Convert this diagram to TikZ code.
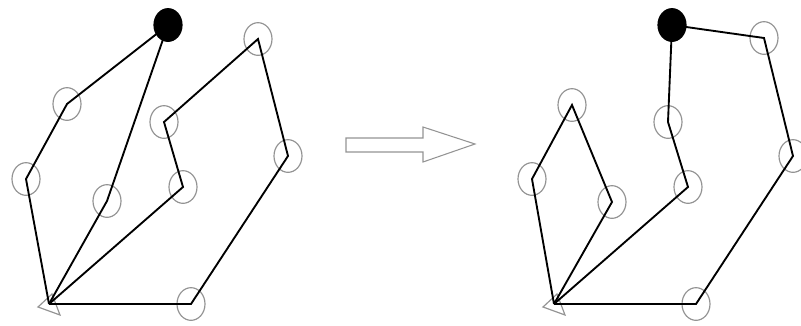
\documentclass[tikz,border=0pt]{standalone}
\usetikzlibrary{shapes.geometric}
\begin{document}
\begin{tikzpicture}[x=0.03cm, y=-0.03cm,
    every node/.style={ellipse, draw=gray!85, line width=1pt, minimum width=0.84cm, minimum height=0.98cm, inner sep=0pt},
    depot/.style={fill=black, draw=black},
    route/.style={line width=1.6pt, line join=miter}]
    \useasboundingbox (0,0) rectangle (801,325);
    % left: before
    \foreach \n/\x/\y in {a/67/104,b/26/179,c/107/201,d/164/122,e/183/187,f/258/39,g/288/156,h/191/304} {
        \node (L\n) at (\x,\y) {};
    }
    \coordinate (Lt) at (49,304);
    \draw[gray!85, line width=1pt] (Lt) ++(-11,3) -- ++(22,8) -- ++(-8,-21) -- cycle;
    \node[depot] (Ldep) at (168,25) {};
    \draw[route] (Ldep.center) -- (La.center) -- (Lb.center) -- (Lt);
    \draw[route] (Ldep.center) -- (Lc.center) -- (Lt);
    \draw[route] (Lt) -- (Le.center) -- (Ld.center) -- (Lf.center) -- (Lg.center) -- (Lh.center) -- (Lt);
    % arrow
    \draw[gray!85, line width=0.9pt] (346,138) -- (423,138) -- (423,127) -- (475,144) -- (423,162) -- (423,152) -- (346,152) -- cycle;
    % right: after
    \foreach \n/\x/\y in {a/572/105,b/532/179,c/612/202,d/668/122,e/688/187,f/764/38,g/793/156,h/696/304} {
        \node (R\n) at (\x,\y) {};
    }
    \coordinate (Rt) at (554,304);
    \draw[gray!85, line width=1pt] (Rt) ++(-11,3) -- ++(22,8) -- ++(-8,-21) -- cycle;
    \node[depot] (Rdep) at (672,25) {};
    \draw[route] (Rt) -- (Rb.center) -- (Ra.center) -- (Rc.center) -- (Rt);
    \draw[route] (Rt) -- (Re.center) -- (Rd.center) -- (Rdep.center) -- (Rf.center) -- (Rg.center) -- (Rh.center) -- (Rt);
\end{tikzpicture}
\end{document}
